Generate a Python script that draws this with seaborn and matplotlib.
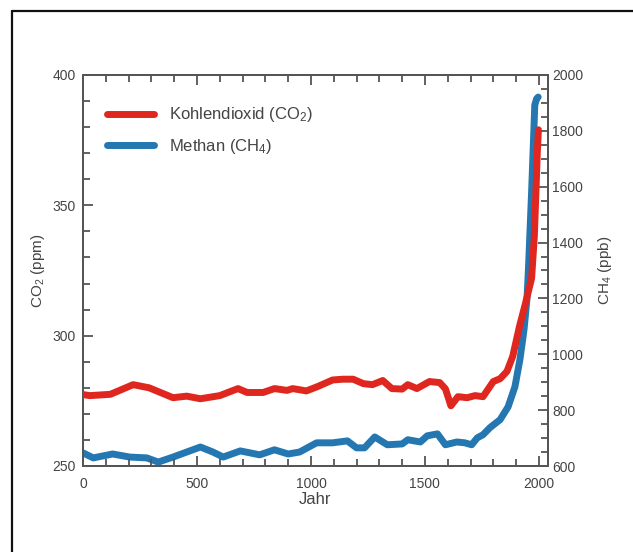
import matplotlib
matplotlib.use("Agg")
import matplotlib.pyplot as plt
from matplotlib.lines import Line2D
from matplotlib.ticker import MultipleLocator
import seaborn as sns
import pandas as pd

# ---- data ----
co2_years = [0, 30, 120, 220, 290, 395, 455, 515, 600, 680, 720, 790, 840, 895, 920, 980,
             1030, 1095, 1140, 1185, 1230, 1270, 1315, 1355, 1400, 1425, 1465, 1520, 1565,
             1590, 1614, 1645, 1685, 1720, 1755, 1800, 1830, 1860, 1885, 1915, 1940, 1968,
             1980, 1987, 1993, 1998]
co2_ppm = [277.4, 277, 277.5, 281.2, 280, 276.2, 276.8, 275.8, 277, 279.7, 278.2, 278.2,
           279.7, 279, 279.7, 278.8, 280.5, 283, 283.3, 283.3, 281.6, 281.2, 282.8, 279.7,
           279.5, 281.2, 279.7, 282.4, 282, 279.6, 273.1, 276.6, 276.2, 277, 276.6, 282.4,
           283.5, 286.3, 292, 303.6, 312, 322, 338, 355, 370, 379]

ch4_years = [0, 45, 130, 205, 280, 330, 395, 445, 515, 570, 615, 690, 775, 840, 900, 950,
             1025, 1095, 1160, 1200, 1235, 1280, 1335, 1400, 1425, 1480, 1510, 1555, 1590,
             1640, 1675, 1705, 1730, 1755, 1785, 1830, 1865, 1895, 1917, 1935, 1948, 1955,
             1968, 1982, 1990, 1997]
ch4_ppb = [647, 629, 643, 632, 629, 614, 632, 647, 668, 650, 632, 654, 640, 658, 643, 650,
           683, 683, 690, 665, 665, 704, 676, 679, 694, 686, 708, 715, 676, 686, 683, 676,
           701, 712, 737, 766, 812, 884, 982, 1090, 1200, 1320, 1580, 1892, 1915, 1921]

label_co2 = "Kohlendioxid (CO$_2$)"
label_ch4 = "Methan (CH$_4$)"
x_label = "Jahr"
y_label_left = "CO$_2$ (ppm)"
y_label_right = "CH$_4$ (ppb)"

RED = "#e0271f"
BLUE = "#2477b0"
TXT = "#444444"
SPINE = "#555555"

sns.set_style("ticks")
plt.rcParams["font.family"] = ["Liberation Sans", "DejaVu Sans"]
plt.rcParams["mathtext.default"] = "regular"

fig = plt.figure(figsize=(6.33, 5.52), dpi=100)
ax = fig.add_axes([83 / 633, 1 - 466 / 552, (548 - 83) / 633, (466 - 75) / 552])
ax2 = ax.twinx()

df_co2 = pd.DataFrame({"Jahr": co2_years, "val": co2_ppm})
df_ch4 = pd.DataFrame({"Jahr": ch4_years, "val": ch4_ppb})

sns.lineplot(data=df_co2, x="Jahr", y="val", ax=ax, color=RED, lw=5,
             solid_capstyle="round", solid_joinstyle="round", zorder=3)
sns.lineplot(data=df_ch4, x="Jahr", y="val", ax=ax2, color=BLUE, lw=5,
             solid_capstyle="round", solid_joinstyle="round", zorder=2)
# draw CO2 above CH4
ax.set_zorder(ax2.get_zorder() + 1)
ax.patch.set_visible(False)

ax.set_xlim(0, 2040)
ax.set_ylim(250, 400)
ax2.set_ylim(600, 2000)

ax.xaxis.set_major_locator(MultipleLocator(500))
ax.xaxis.set_minor_locator(MultipleLocator(100))
ax.yaxis.set_major_locator(MultipleLocator(50))
ax.yaxis.set_minor_locator(MultipleLocator(10))
ax2.yaxis.set_major_locator(MultipleLocator(200))
ax2.yaxis.set_minor_locator(MultipleLocator(50))

ax.tick_params(axis="x", which="both", direction="in", top=True, bottom=True,
               colors=SPINE, labelcolor=TXT, labelsize=10, pad=8)
ax.tick_params(axis="x", which="major", length=7, width=1.3)
ax.tick_params(axis="x", which="minor", length=5, width=1.3)
ax.tick_params(axis="y", which="both", direction="in", left=True, right=False,
               colors=SPINE, labelcolor=TXT, labelsize=10, pad=5)
ax.tick_params(axis="y", which="major", length=7, width=1.3)
ax.tick_params(axis="y", which="minor", length=5, width=1.3)
ax2.tick_params(axis="y", which="both", direction="in", colors=SPINE,
                labelcolor=TXT, labelsize=10, pad=3)
ax2.tick_params(axis="y", which="major", length=7, width=1.3)
ax2.tick_params(axis="y", which="minor", length=5, width=1.3)

for a in (ax, ax2):
    for s in a.spines.values():
        s.set_color(SPINE)
        s.set_linewidth(1.4)

ax.set_xlabel(x_label, fontsize=12, color=TXT, labelpad=1)
ax.set_ylabel(y_label_left, fontsize=11, color=TXT, labelpad=4)
ax2.set_ylabel(y_label_right, fontsize=11, color=TXT, labelpad=9, rotation=90)

handles = [Line2D([0], [0], color=RED, lw=5, solid_capstyle="round"),
           Line2D([0], [0], color=BLUE, lw=5, solid_capstyle="round")]
leg = ax.legend(handles, [label_co2, label_ch4], loc="upper left",
                bbox_to_anchor=(0.052, 0.922), frameon=False, fontsize=12,
                handlelength=2.8, handletextpad=0.9, labelspacing=0.75, borderpad=0,
                borderaxespad=0)
for t in leg.get_texts():
    t.set_color(TXT)

# outer frame lines (left and top only)
fig.add_artist(Line2D([12 / 633, 12 / 633], [0, 1 - 11 / 552], color="#111111", lw=1.6))
fig.add_artist(Line2D([12 / 633, 1], [1 - 11 / 552, 1 - 11 / 552], color="#111111", lw=1.6))

fig.savefig("out.png", dpi=100, facecolor="white")
